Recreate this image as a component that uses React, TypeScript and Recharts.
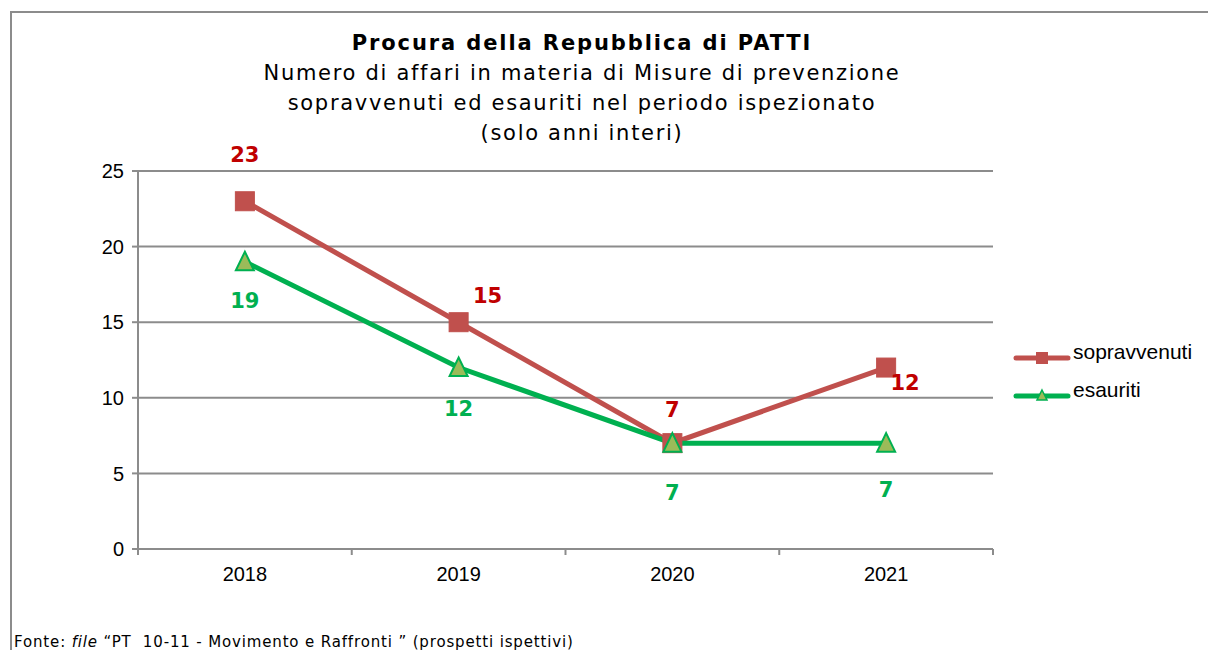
import React from "react"
import { LineChart, Line, XAxis, YAxis, CartesianGrid, LabelList } from "recharts"

const years = ["2018", "2019", "2020", "2021"]
const sopravvenuti = [23, 15, 7, 12]
const esauriti = [19, 12, 7, 7]
const yTicks = [0, 5, 10, 15, 20, 25]

const titleLines = [
  "Numero di affari in materia di Misure di prevenzione",
  "sopravvenuti ed esauriti nel periodo ispezionato",
  "(solo anni interi)",
]

const RED = "#C0504D"
const RED_LABEL = "#C00000"
const GREEN = "#00B050"
const GREEN_FILL = "#9BBB59"
const GRID = "#8C8C8C"

const W = 1208
const H = 650
const M = { top: 171, right: 215, bottom: 71, left: 78 }
const Y_AXIS_W = 60
const X_AXIS_H = 30
const bandW = (W - M.left - Y_AXIS_W - M.right) / years.length

// label offsets from the point (Excel placed them by hand)
const redOffsets = [[0, -46], [29, -26], [0, -33], [19, 15]]
const greenOffsets = [[0, 39], [0, 41], [0, 50], [0, 47]]

const data = years.map((anno, i) => ({ anno, sopravvenuti: sopravvenuti[i], esauriti: esauriti[i] }))

const SquareDot = (props: any) => {
  const { cx, cy } = props
  if (cx == null || cy == null) return null
  return <rect x={cx - 9.5} y={cy - 9.5} width={19} height={19} fill={RED} stroke={RED} strokeWidth={1} />
}

const TriangleDot = (props: any) => {
  const { cx, cy } = props
  if (cx == null || cy == null) return null
  return (
    <polygon
      points={`${cx},${cy - 10} ${cx + 9},${cy + 8.5} ${cx - 9},${cy + 8.5}`}
      fill={GREEN_FILL}
      stroke={GREEN}
      strokeWidth={2}
      strokeLinejoin="miter"
    />
  )
}

const makeLabel = (offsets: number[][], color: string) => (props: any) => {
  const { x, y, value, index } = props
  const [dx, dy] = offsets[index] ?? [0, 0]
  return (
    <text
      x={x + dx}
      y={y + dy}
      textAnchor="middle"
      dominantBaseline="central"
      fill={color}
      fontFamily="DejaVu Sans"
      fontWeight="bold"
      fontSize={21}
    >
      {value}
    </text>
  )
}

const XTick = (props: any) => {
  const { x, y, payload, index } = props
  return (
    <g>
      <line x1={x - bandW / 2} y1={y} x2={x - bandW / 2} y2={y + 6} stroke={GRID} strokeWidth={2} />
      {index === years.length - 1 && (
        <line x1={x + bandW / 2} y1={y} x2={x + bandW / 2} y2={y + 6} stroke={GRID} strokeWidth={2} />
      )}
      <text x={x} y={y + 25} textAnchor="middle" dominantBaseline="central" fontFamily="Liberation Sans" fontSize={20} fill="#000">
        {payload.value}
      </text>
    </g>
  )
}

const LegendIcon = ({ color, kind }: { color: string; kind: "square" | "triangle" }) => (
  <svg width={58} height={16} style={{ display: "block" }}>
    <line x1={3} y1={8} x2={55} y2={8} stroke={color} strokeWidth={5} strokeLinecap="round" />
    {kind === "square" ? (
      <rect x={23} y={2} width={12} height={12} fill={RED} />
    ) : (
      <polygon points="29,2 34,12 24,12" fill={GREEN_FILL} stroke={GREEN} strokeWidth={1.5} />
    )}
  </svg>
)

const legendItems = [
  { name: "sopravvenuti", color: RED, kind: "square" as const },
  { name: "esauriti", color: GREEN, kind: "triangle" as const },
]

export default function App() {
  return (
    <div style={{ position: "absolute", left: 0, top: 0, width: W, height: H, overflow: "hidden", background: "#fff" }}>
      <div style={{ position: "absolute", left: 10, top: 11, width: W, height: H, border: "2px solid #8C8C8C", boxSizing: "border-box" }} />

      <div style={{ position: "absolute", left: 0, top: 28, width: 1164, textAlign: "center", fontFamily: "DejaVu Sans", fontSize: 21, lineHeight: "30px", letterSpacing: 1.7, color: "#000" }}>
        <div style={{ fontWeight: "bold", letterSpacing: 1.9 }}>Procura della Repubblica di PATTI</div>
        {titleLines.map(t => <div key={t}>{t}</div>)}
      </div>

      <div style={{ position: "absolute", left: 0, top: 0 }}>
        <LineChart width={W} height={H} data={data} margin={M}>
          <CartesianGrid vertical={false} stroke={GRID} strokeWidth={2} />
          <XAxis
            dataKey="anno"
            scale="band"
            height={X_AXIS_H}
            axisLine={{ stroke: GRID, strokeWidth: 2 }}
            tickLine={false}
            tickSize={0}
            tickMargin={0}
            tick={<XTick />}
            interval={0}
          />
          <YAxis
            width={Y_AXIS_W}
            domain={[0, 25]}
            ticks={yTicks}
            axisLine={{ stroke: GRID, strokeWidth: 2 }}
            tickLine={{ stroke: GRID, strokeWidth: 2 }}
            tickSize={6}
            tickMargin={8}
            tick={{ fontFamily: "Liberation Sans", fontSize: 20, fill: "#000" }}
          />
          <Line
            dataKey="sopravvenuti"
            stroke={RED}
            strokeWidth={5}
            dot={<SquareDot />}
            activeDot={false}
            isAnimationActive={false}
          >
            <LabelList dataKey="sopravvenuti" content={makeLabel(redOffsets, RED_LABEL)} />
          </Line>
          <Line
            dataKey="esauriti"
            stroke={GREEN}
            strokeWidth={5}
            dot={<TriangleDot />}
            activeDot={false}
            isAnimationActive={false}
          >
            <LabelList dataKey="esauriti" content={makeLabel(greenOffsets, GREEN)} />
          </Line>
        </LineChart>
      </div>

      <div style={{ position: "absolute", left: 1013, top: 339 }}>
        {legendItems.map(it => (
          <div key={it.name} style={{ display: "flex", alignItems: "center", height: 38 }}>
            <LegendIcon color={it.color} kind={it.kind} />
            <span style={{ fontFamily: "Liberation Sans", fontSize: 21, marginLeft: 2, color: "#000", lineHeight: "24px", marginTop: -12 }}>{it.name}</span>
          </div>
        ))}
      </div>

      <div style={{ position: "absolute", left: 14, top: 633, fontFamily: "DejaVu Sans", fontSize: 15, letterSpacing: 0.85, color: "#000", whiteSpace: "pre" }}>
        Fonte: <i>file</i> “PT  10-11 - Movimento e Raffronti ” (prospetti ispettivi)
      </div>
    </div>
  )
}
